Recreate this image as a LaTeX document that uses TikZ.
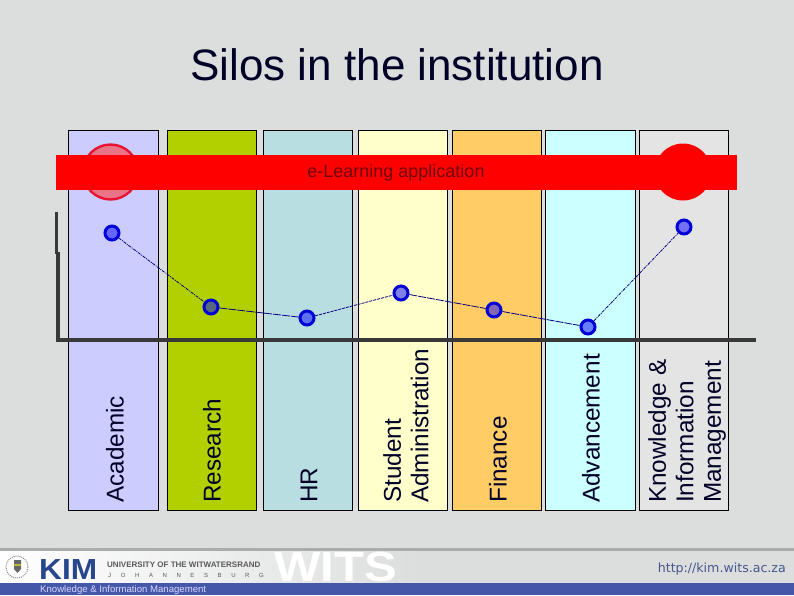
\documentclass[tikz,border=0pt]{standalone}
\usepackage{fontspec}
\setmainfont{Liberation Sans}
\newfontfamily\urlfont{DejaVu Sans}
\begin{document}
\begin{tikzpicture}[x=1pt,y=-1pt,
  silo/.style={draw=black,line width=0.9pt},
  silotext/.style={rotate=90,anchor=west,align=left,inner sep=0pt,font=\fontsize{24.3}{27.5}\selectfont,text=black!85!blue},
  dot/.style={circle,draw={rgb,255:red,0;green,0;blue,215},line width=3pt,fill=blue,fill opacity=0.5,draw opacity=1,minimum size=14pt,inner sep=0pt},
  link/.style={draw=blue!50!black,line width=0.8pt}]
\useasboundingbox (0,0) rectangle (794,595);
\fill[fill={rgb,255:red,220;green,222;blue,221}] (0,0) rectangle (794,595);
% columns
\filldraw[silo,fill={rgb,255:red,204;green,204;blue,255}] (68.5,130.5) rectangle (158.5,510);
\filldraw[silo,fill={rgb,255:red,178;green,208;blue,0}] (167.5,130.5) rectangle (256.5,510);
\filldraw[silo,fill={rgb,255:red,184;green,222;blue,226}] (263.5,130.5) rectangle (352.5,510);
\filldraw[silo,fill={rgb,255:red,255;green,255;blue,204}] (358.5,130.5) rectangle (447.5,510);
\filldraw[silo,fill={rgb,255:red,255;green,204;blue,102}] (452.5,130.5) rectangle (541.5,510);
\filldraw[silo,fill={rgb,255:red,204;green,255;blue,255}] (545.5,130.5) rectangle (635.5,510);
\filldraw[silo,fill={rgb,255:red,228;green,228;blue,228}] (639.5,130.5) rectangle (728.5,510);
% title
\node[anchor=base,inner sep=0pt,font=\fontsize{44}{50}\selectfont,text=black!85!blue] (title) at (397,80) {Silos in the institution};
% circles and band
\node[circle,draw={rgb,255:red,230;green,20;blue,50},line width=2.4pt,fill={rgb,255:red,235;green,115;blue,135},minimum size=55pt,inner sep=0pt] (lc) at (110.5,172) {};
\node[circle,fill=red,minimum size=57pt,inner sep=0pt] (rc) at (683,172) {};
\fill[red] (56,155) rectangle (737,190);
\node[inner sep=0pt,font=\fontsize{18}{20}\selectfont,text={rgb,255:red,110;green,5;blue,15}] (band) at (396,173) {e-Learning application};
% axes
\draw[line width=3.3pt,draw=black!78] (56.5,212) -- (56.5,254);
\draw[line width=3.3pt,draw=black!78] (58,252) -- (58,340) -- (756,340);
% labels
\node[silotext] (t1) at (115,503) {Academic};
\node[silotext] (t2) at (212,503) {Research};
\node[silotext] (t3) at (309,503) {HR};
\node[silotext] (t4) at (406,503) {Student\\Administration};
\node[silotext] (t5) at (498,503) {Finance};
\node[silotext] (t6) at (591,503) {Advancement};
\node[silotext] (t7) at (687,503) {Knowledge \&\\Information\\Management};
% line
\node[dot] (d1) at (112,233) {};
\node[dot] (d2) at (211,307) {};
\node[dot] (d3) at (307,318) {};
\node[dot] (d4) at (401,293) {};
\node[dot] (d5) at (494,310) {};
\node[dot] (d6) at (588,327) {};
\node[dot] (d7) at (684,227) {};
\draw[link,dash pattern=on 3pt off 1pt on 1pt off 1pt] (d1) -- (d2);
\draw[link,dash pattern=on 8pt off 1pt] (d2) -- (d3);
\draw[link,dash pattern=on 3pt off 1pt] (d3) -- (d4);
\draw[link,dash pattern=on 8pt off 1pt] (d4) -- (d5);
\draw[link,dash pattern=on 8pt off 1pt] (d5) -- (d6);
\draw[link,dash pattern=on 3pt off 1pt on 1pt off 1pt] (d6) -- (d7);
% footer
\fill[left color=white,right color={rgb,255:red,220;green,222;blue,221}] (0,551) rectangle (420,583);
\fill[black!33] (0,548) rectangle (794,551);
\fill[fill={rgb,255:red,69;green,87;blue,168}] (0,583) rectangle (794,595);
\draw[line width=1pt,draw=black!45,dash pattern=on 1pt off 1pt] (17,567) circle (11);
\fill[fill=black!60] (14,560) -- (21,560) -- (21,569) -- (17.5,573) -- (14,569) -- cycle;
\fill[fill=yellow!70!black] (14,564) rectangle (21,566);
\node[anchor=base west,inner sep=0pt,xscale=1.09,font=\fontsize{29}{30}\bfseries\selectfont,text={rgb,255:red,40;green,70;blue,140}] (kim) at (39,579) {KIM};
\node[anchor=base west,inner sep=0pt,font=\fontsize{8}{9}\bfseries\selectfont,text=black!65] (uni) at (107,567) {UNIVERSITY OF THE WITWATERSRAND};
\node[anchor=base west,inner sep=0pt,font=\fontsize{6}{7}\selectfont,text=black!65] (jhb) at (108,577.5) {J\hspace{9.6pt}O\hspace{9.6pt}H\hspace{9.6pt}A\hspace{9.6pt}N\hspace{9.6pt}N\hspace{9.6pt}E\hspace{9.6pt}S\hspace{9.6pt}B\hspace{9.6pt}U\hspace{9.6pt}R\hspace{9.6pt}G};
\node[anchor=base west,inner sep=0pt,xscale=1.17,font=\fontsize{42}{44}\bfseries\selectfont,text=white] (wits) at (274,581.5) {WITS};
\node[anchor=base west,inner sep=0pt,font=\fontsize{9.6}{11}\selectfont,text=white!85!blue] (ki) at (40,592.5) {Knowledge \& Information Management};
\node[anchor=base east,inner sep=0pt,font=\urlfont\fontsize{12.6}{15}\selectfont,text={rgb,255:red,69;green,87;blue,140}] (url) at (786,572.5) {http://kim.wits.ac.za};
\end{tikzpicture}
\end{document}
